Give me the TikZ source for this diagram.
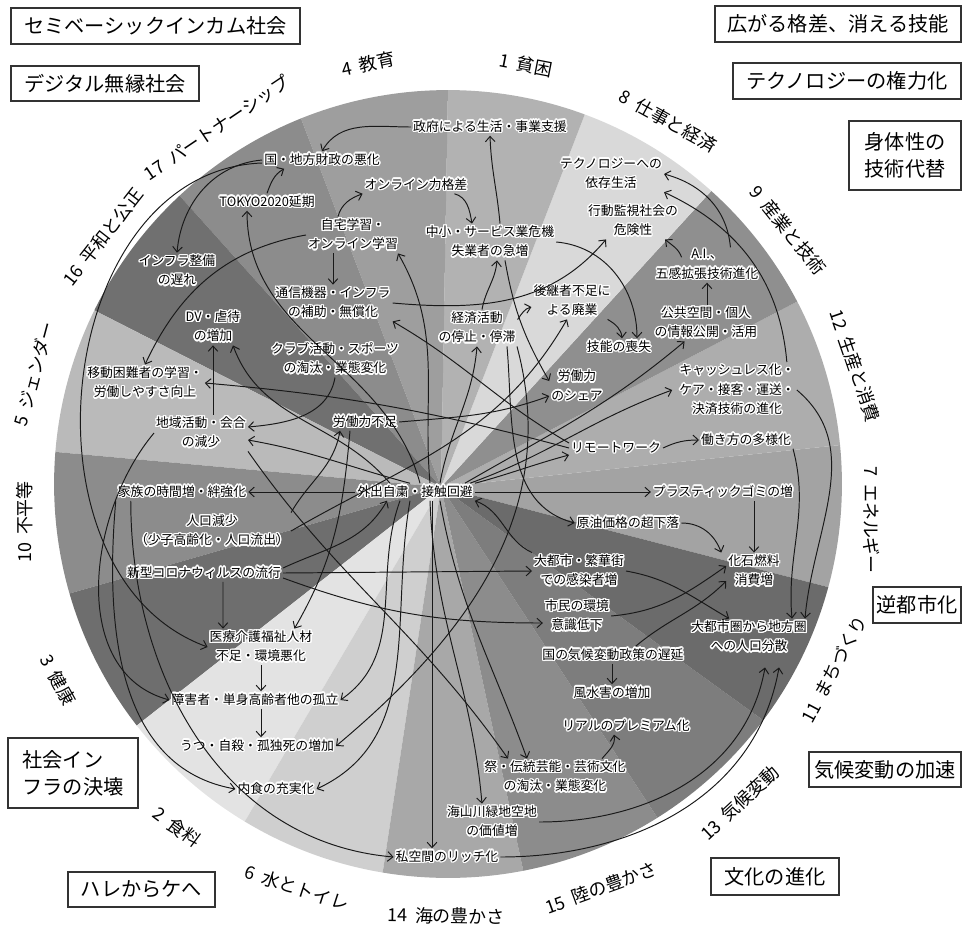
\documentclass[tikz,border=0pt]{standalone}
\usepackage{fontspec}
\setmainfont{Noto Sans CJK JP}
\usepackage{contour}
\contourlength{0.8pt}
\usetikzlibrary{arrows.meta}

\def\rimCircle{(448,484) circle (7.88cm)}
\def\fanApex{(441,487)}
\newcommand\lbl[1]{\contour{white}{#1}}
\colorlet{link line}{black!90}
\colorlet{box edge}{black!80}
\tikzset{
  issue/.style={inner sep=1pt, align=center, font=\fontsize{7.3}{11}\selectfont},
  scenario/.style={draw=box edge, line width=0.7pt, inner sep=0pt, font=\fontsize{11.5}{15.3}\selectfont},
  goal/.style={inner sep=0pt, font=\fontsize{10.2}{12}\selectfont}
  }
\tikzstyle{link} = [draw=link line, line width=0.55pt, -{Straight Barb[length=3pt,width=5.5pt]}]

\begin{document}
\begin{tikzpicture}[x=0.02cm, y=-0.02cm]
  \useasboundingbox (0,0) rectangle (972,929);

  \begin{scope}
    \clip \rimCircle;
    \foreach \angA/\angB/\tone in {-14.5/6/black!36, 6/27.5/black!32, 27.5/47.6/black!44,
      47.6/68.9/black!15, 68.9/89/black!30, 89/110.8/black!38, 110.8/131.9/black!45,
      131.9/153/black!56, 153/174.8/black!27, 174.8/196/black!45, 196/218.1/black!57,
      218.1/239.6/black!11, 239.6/261.4/black!19, 261.4/282.1/black!34,
      282.1/303.2/black!45, 303.2/324.1/black!51, 324.1/345.5/black!58} {
      \fill[\tone] \fanApex -- +(\angA:12cm) arc[start angle=\angA, end angle=\angB, radius=12cm] -- cycle;
    }
  \end{scope}

  \foreach \pos/\rot/\num/\name in {{(526,65)/-11/1/貧困}, {(368,64)/12/4/教育},
    {(668,121)/-29/8/仕事と経済}, {(788,230)/-51/9/産業と技術}, {(855,366)/-71/12/生産と消費},
    {(872,520)/-90/7/エネルギー}, {(834,669)/62/11/まちづくり}, {(740,803)/43/13/気候変動},
    {(601,888)/20/15/陸の豊かさ}, {(446,916)/-1/14/海の豊かさ}, {(297,888)/-18/6/水とトイレ},
    {(177,827)/-37/2/食料}, {(58,680)/-61/3/健康}, {(25,522)/90/10/不平等},
    {(34,374)/75/5/ジェンダー}, {(103,237)/52/16/平和と公正}, {(217,128)/34/17/パートナーシップ}} {
    \node[goal, rotate=\rot] (goal\num) at \pos {\num\hspace{0.45em}\name};
  }

  \node[scenario, minimum width=5.78cm, minimum height=0.72cm] (semibasic) at (155.5,26) {セミベーシックインカム社会};
  \node[scenario, minimum width=3.76cm, minimum height=0.70cm] (digital) at (105,83.5) {デジタル無縁社会};
  \node[scenario, minimum width=4.92cm, minimum height=0.72cm] (gapskill) at (838,24) {広がる格差、消える技能};
  \node[scenario, minimum width=4.56cm, minimum height=0.72cm] (techpower) at (847,81) {テクノロジーの権力化};
  \node[scenario, minimum width=2.24cm, minimum height=1.38cm, align=center] (bodytech) at (905,155.5) {身体性の\\技術代替};
  \node[scenario, minimum width=1.76cm, minimum height=0.72cm] (counterurb) at (917,605) {逆都市化};
  \node[scenario, minimum width=3.04cm, minimum height=0.70cm] (climaccel) at (885,769.5) {気候変動の加速};
  \node[scenario, minimum width=2.56cm, minimum height=0.74cm] (culture) at (775,876.5) {文化の進化};
  \node[scenario, minimum width=2.60cm, minimum height=1.40cm, align=left] (infrafall) at (73,773) {社会イン\\フラの決壊};
  \node[scenario, minimum width=2.94cm, minimum height=0.70cm] (harekee) at (141.5,889.5) {ハレからケへ};

  \node[issue] (gov) at (490,127) {\lbl{政府による生活・事業支援}};
  \node[issue] (fiscal) at (322,160) {\lbl{国・地方財政の悪化}};
  \node[issue] (olgap) at (416,185) {\lbl{オンライン力格差}};
  \node[issue] (tokyo) at (267,202) {\lbl{TOKYO2020延期}};
  \node[issue] (homestudy) at (353,235) {\lbl{自宅学習・}\\\lbl{オンライン学習}};
  \node[issue] (sme) at (490,242) {\lbl{中小・サービス業危機}\\\lbl{失業者の急増}};
  \node[issue] (techdep) at (611,174) {\lbl{テクノロジーへの}\\\lbl{依存生活}};
  \node[issue] (surveil) at (633,221) {\lbl{行動監視社会の}\\\lbl{危険性}};
  \node[issue] (ai) at (707,265) {\lbl{A.I.、}\\\lbl{五感拡張技術進化}};
  \node[issue] (infra) at (177,271) {\lbl{インフラ整備}\\\lbl{の遅れ}};
  \node[issue] (telecom) at (333,303) {\lbl{通信機器・インフラ}\\\lbl{の補助・無償化}};
  \node[issue] (succ) at (572,301) {\lbl{後継者不足に}\\\lbl{よる廃業}};
  \node[issue] (econ) at (477,328) {\lbl{経済活動}\\\lbl{の停止・停滞}};
  \node[issue] (skill) at (619,347) {\lbl{技能の喪失}};
  \node[issue] (public) at (706,323) {\lbl{公共空間・個人}\\\lbl{の情報公開・活用}};
  \node[issue] (dv) at (213,327) {\lbl{DV・虐待}\\\lbl{の増加}};
  \node[issue] (club) at (335,359) {\lbl{クラブ活動・スポーツ}\\\lbl{の淘汰・業態変化}};
  \node[issue] (mobility) at (145,383) {\lbl{移動困難者の学習・}\\\lbl{労働しやすさ向上}};
  \node[issue] (share) at (577,386) {\lbl{労働力}\\\lbl{のシェア}};
  \node[issue] (cashless) at (737,390) {\lbl{キャッシュレス化・}\\\lbl{ケア・接客・運送・}\\\lbl{決済技術の進化}};
  \node[issue] (local) at (201,433) {\lbl{地域活動・会合}\\\lbl{の減少}};
  \node[issue] (shortage) at (365,422) {\lbl{労働力不足}};
  \node[issue] (remote) at (616,448) {\lbl{リモートワーク}};
  \node[issue] (workstyle) at (746,440) {\lbl{働き方の多様化}};
  \node[issue] (family) at (182,492) {\lbl{家族の時間増・絆強化}};
  \node[issue] (stay) at (415,492) {\lbl{外出自粛・接触回避}};
  \node[issue] (plastic) at (723,492) {\lbl{プラスティックゴミの増}};
  \node[issue] (popdec) at (212,531) {\lbl{人口減少}\\\lbl{（少子高齢化・人口流出）}};
  \node[issue] (oil) at (628,523) {\lbl{原油価格の超下落}};
  \node[issue] (fossil) at (754,571) {\lbl{化石燃料}\\\lbl{消費増}};
  \node[issue] (hotspot) at (579,571) {\lbl{大都市・繁華街}\\\lbl{での感染者増}};
  \node[issue] (covid) at (204,573) {\lbl{新型コロナウィルスの流行}};
  \node[issue] (envaware) at (577,616) {\lbl{市民の環境}\\\lbl{意識低下}};
  \node[issue] (decentral) at (749,637) {\lbl{大都市圏から地方圏}\\\lbl{への人口分散}};
  \node[issue] (care) at (261,647) {\lbl{医療介護福祉人材}\\\lbl{不足・環境悪化}};
  \node[issue] (climpol) at (613,655) {\lbl{国の気候変動政策の遅延}};
  \node[issue] (isolate) at (255,700) {\lbl{障害者・単身高齢者他の孤立}};
  \node[issue] (flood) at (612,693) {\lbl{風水害の増加}};
  \node[issue] (suicide) at (257,746) {\lbl{うつ・自殺・孤独死の増加}};
  \node[issue] (realprem) at (626,726) {\lbl{リアルのプレミアム化}};
  \node[issue] (festival) at (555,777) {\lbl{祭・伝統芸能・芸術文化}\\\lbl{の淘汰・業態変化}};
  \node[issue] (homefood) at (276,789) {\lbl{内食の充実化}};
  \node[issue] (nature) at (492,822) {\lbl{海山川緑地空地}\\\lbl{の価値増}};
  \node[issue] (private) at (447,857) {\lbl{私空間のリッチ化}};

  \path[link] (gov.west) to[out=180,in=60] (fiscal.north);
  \path[link] ([xshift=0.2cm]sme.north) to[out=95,in=-88] (gov.south);
  \path[link] (tokyo.north) to[out=70,in=210] ([xshift=0.44cm]fiscal.south west);
  \path[link] ([xshift=-0.3cm]homestudy.north) to[out=75,in=200] (olgap.south west);
  \path[link] ([xshift=-0.3cm]olgap.south east) to[out=-15,in=100] ([xshift=-0.36cm]sme.north);
  \path[link] (telecom.north |- homestudy.south) -- (telecom.north);
  \path[link] (fiscal.west) to[out=185,in=85] (infra.north);
  \path[link] ([yshift=-0.06cm]fiscal.west) to[out=182,in=160,looseness=1.1] (care.west);
  \path[link] (homestudy.west) to[out=190,in=65] (mobility.north);
  \path[link] (telecom.east) to[out=-5,in=230] ([xshift=0.4cm]surveil.south west);
  \path[link] ([xshift=0.56cm,yshift=-0.2cm]ai.north west) to[out=110,in=-40] ([xshift=-0.3cm]surveil.south east);
  \path[link] ([xshift=-0.6cm]ai.north east) to[out=95,in=-15] (techdep.east);
  \path[link] ([xshift=-0.2cm]cashless.north east) to[out=95,in=-25] (techdep.south east);
  \path[link] (ai.south |- public.north) -- (ai.south);
  \path[link] ([xshift=0.1cm]econ.north) to[out=80,in=-95] ([xshift=0.14cm]sme.south);
  \path[link] ([yshift=-0.2cm]econ.north east) to[out=55,in=195] ([yshift=-0.12cm]succ.west);
  \path[link] ([xshift=-0.1cm]succ.south east) to[out=-30,in=95] ([xshift=0.06cm]skill.north);
  \path[link] (sme.east) to[out=-5,in=90] ([xshift=0.36cm]skill.north);
  \path[link] ([xshift=0.3cm]sme.south) to[out=-80,in=120] ([yshift=0.1cm]share.west);
  \path[link] (shortage.east) to[out=5,in=200] ([yshift=-0.2cm]share.west);
  \path[link] (popdec.north east) to[out=60,in=-100] ([xshift=-0.5cm]shortage.south);
  \path[link] (popdec.east) to[out=30,in=240] ([xshift=-0.1cm]succ.south);
  \path[link] ([xshift=-0.3cm]shortage.south) to[out=-95,in=60] ([xshift=-0.4cm]care.north east);
  \path[link] (remote.west) to[out=165,in=-5] (mobility.east);
  \path[link] ([yshift=0.1cm]remote.west) to[out=150,in=-30] (telecom.south east);
  \path[link] (stay.north east) to[out=15,in=195] ([yshift=-0.14cm]remote.west);
  \path[link] (remote.east) to[out=25,in=180] (workstyle.west);
  \path[link] ([xshift=-0.2cm]stay.north east) to[out=30,in=220] ([xshift=0.64cm]public.south west);
  \path[link] ([xshift=-0.1cm]stay.north east) to[out=20,in=200] ([xshift=-0.1cm]cashless.west);
  \path[link] (stay.east) -- (plastic.west);
  \path[link] (stay.west) -- (family.east);
  \path[link] ([xshift=-0.1cm]stay.north) to[out=165,in=-10] ([yshift=-0.14cm]local.east);
  \path[link] (club.south) to[out=-100,in=5] ([yshift=0.12cm]local.east);
  \path[link] (local.north -| dv.south) -- (dv.south);
  \path[link] ([xshift=-0.5cm]stay.north) to[out=130,in=-70] ([xshift=0.4cm]dv.south);
  \path[link] ([xshift=0.1cm]stay.north) to[out=105,in=-90] ([xshift=-0.4cm]tokyo.south);
  \path[link] ([xshift=0.3cm]stay.north) to[out=95,in=-60] ([xshift=0.9cm]homestudy.south);
  \path[link] ([xshift=0.5cm]stay.north) to[out=80,in=-95] (econ.south);
  \path[link] ([xshift=0.6cm]econ.south) to[out=-85,in=165] (oil.west);
  \path[link] ([xshift=0.8cm]econ.south) to[out=-75,in=40] (suicide.east);
  \path[link] (hotspot.north west) to[out=155,in=-20] (stay.south east);
  \path[link] (hotspot.east) to[out=-10,in=150] ([xshift=0.8cm]decentral.north west);
  \path[link] (covid.east) -- (hotspot.west);
  \path[link] ([yshift=0.1cm]covid.east) to[out=25,in=-120] ([xshift=-0.56cm]stay.south);
  \path[link] ([yshift=-0.1cm]covid.east) to[out=-20,in=180] ([yshift=-0.14cm]envaware.west);
  \path[link] ([xshift=0.38cm]covid.south) -- ([xshift=-0.76cm]care.north);
  \path[link] (care.south) -- (care.south |- isolate.north);
  \path[link] (care.south |- isolate.south) -- (care.south |- suicide.north);
  \path[link] (family.south west) to[out=-95,in=170] (homefood.west);
  \path[link] ([xshift=0.3cm]family.south west) to[out=-90,in=175] (private.west);
  \path[link] (local.west) to[out=230,in=165] (isolate.west);
  \path[link] (local.south east) to[out=-55,in=125] ([xshift=-0.94cm]festival.north);
  \path[link] ([xshift=0.5cm]stay.south) to[out=-80,in=110] ([xshift=-0.56cm]festival.north);
  \path[link] ([xshift=0.3cm]stay.south) to[out=-88,in=95] ([xshift=-0.2cm]nature.north);
  \path[link] ([xshift=-0.3cm]private.north |- stay.south) -- ([xshift=-0.3cm]private.north);
  \path[link] ([xshift=-0.1cm]stay.south) to[out=-100,in=25] (homefood.east);
  \path[link] ([xshift=-0.3cm]stay.south) to[out=-110,in=35] (isolate.east);
  \path[link] (fossil.north |- plastic.south) -- (fossil.north);
  \path[link] (oil.east) to[out=0,in=110] ([xshift=-0.1cm]fossil.north west);
  \path[link] (envaware.east) to[out=5,in=215] ([yshift=0.1cm]fossil.west);
  \path[link] ([xshift=-1cm]climpol.north east) to[out=40,in=225] ([yshift=-0.2cm]fossil.west);
  \path[link] (flood.north |- climpol.south) -- (flood.north);
  \path[link] ([xshift=0.94cm]festival.north) to[out=50,in=-80] ([xshift=-0.24cm]realprem.south);
  \path[link] (nature.east) to[out=0,in=-100] ([xshift=0.32cm,yshift=-0.24cm]decentral.south);
  \path[link] (private.east) to[out=0,in=-100] ([xshift=0.6cm,yshift=-0.24cm]decentral.south);
  \path[link] (workstyle.south east) to[out=-75,in=95] ([xshift=0.86cm]decentral.north);
  \path[link] (cashless.east) to[out=-40,in=85] ([xshift=1.12cm]decentral.north);
\end{tikzpicture}
\end{document}
